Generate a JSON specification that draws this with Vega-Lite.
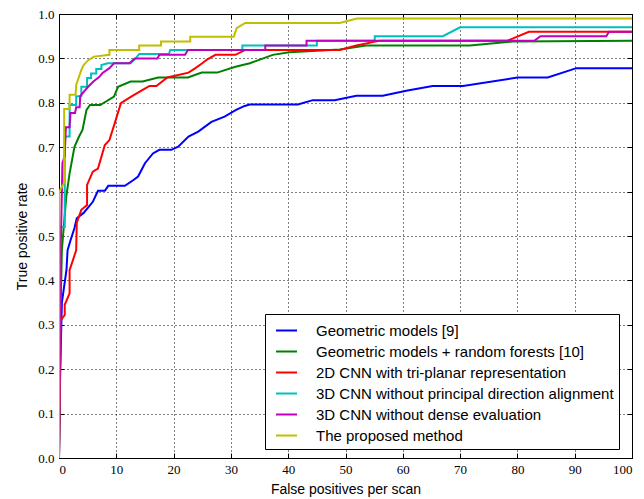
{
  "$schema": "https://vega.github.io/schema/vega-lite/v6.json",
  "autosize": {"type": "none"},
  "width": 573,
  "height": 444,
  "padding": {"left": 59, "top": 14, "right": 12, "bottom": 41},
  "background": "white",
  "config": {
    "view": {"stroke": "black", "strokeWidth": 1},
    "axis": {
      "domainColor": "black",
      "tickColor": "black",
      "tickSize": -5,
      "labelPadding": 10,
      "labelFont": "Liberation Serif",
      "labelFontSize": 13,
      "labelColor": "black",
      "titleFont": "Liberation Sans",
      "titleFontSize": 14,
      "titleFontWeight": "normal",
      "titleColor": "black",
      "gridColor": "black",
      "gridDash": [1, 3],
      "gridOpacity": 1,
      "gridWidth": 1
    }
  },
  "datasets": {
    "curves": [
      {"s": "Geometric models [9]", "x": 0, "y": 0},
      {"s": "Geometric models [9]", "x": 0.2, "y": 0.19},
      {"s": "Geometric models [9]", "x": 0.5, "y": 0.35},
      {"s": "Geometric models [9]", "x": 1.3, "y": 0.423},
      {"s": "Geometric models [9]", "x": 1.5, "y": 0.468},
      {"s": "Geometric models [9]", "x": 2.0, "y": 0.49},
      {"s": "Geometric models [9]", "x": 2.7, "y": 0.518},
      {"s": "Geometric models [9]", "x": 3.1, "y": 0.54},
      {"s": "Geometric models [9]", "x": 4.3, "y": 0.552},
      {"s": "Geometric models [9]", "x": 5.0, "y": 0.563},
      {"s": "Geometric models [9]", "x": 5.9, "y": 0.577},
      {"s": "Geometric models [9]", "x": 6.8, "y": 0.602},
      {"s": "Geometric models [9]", "x": 8.0, "y": 0.602},
      {"s": "Geometric models [9]", "x": 8.6, "y": 0.613},
      {"s": "Geometric models [9]", "x": 11.5, "y": 0.613},
      {"s": "Geometric models [9]", "x": 13.0, "y": 0.626},
      {"s": "Geometric models [9]", "x": 13.8, "y": 0.634},
      {"s": "Geometric models [9]", "x": 15.0, "y": 0.664},
      {"s": "Geometric models [9]", "x": 16.4, "y": 0.686},
      {"s": "Geometric models [9]", "x": 17.5, "y": 0.694},
      {"s": "Geometric models [9]", "x": 19.6, "y": 0.694},
      {"s": "Geometric models [9]", "x": 20.8, "y": 0.701},
      {"s": "Geometric models [9]", "x": 22.6, "y": 0.724},
      {"s": "Geometric models [9]", "x": 24.3, "y": 0.735},
      {"s": "Geometric models [9]", "x": 26.6, "y": 0.757},
      {"s": "Geometric models [9]", "x": 28.9, "y": 0.769},
      {"s": "Geometric models [9]", "x": 30.9, "y": 0.784},
      {"s": "Geometric models [9]", "x": 32.4, "y": 0.793},
      {"s": "Geometric models [9]", "x": 33.3, "y": 0.796},
      {"s": "Geometric models [9]", "x": 41.7, "y": 0.796},
      {"s": "Geometric models [9]", "x": 44.3, "y": 0.806},
      {"s": "Geometric models [9]", "x": 48.1, "y": 0.806},
      {"s": "Geometric models [9]", "x": 51.9, "y": 0.816},
      {"s": "Geometric models [9]", "x": 56.5, "y": 0.816},
      {"s": "Geometric models [9]", "x": 60.6, "y": 0.827},
      {"s": "Geometric models [9]", "x": 65.2, "y": 0.838},
      {"s": "Geometric models [9]", "x": 70.5, "y": 0.838},
      {"s": "Geometric models [9]", "x": 80, "y": 0.857},
      {"s": "Geometric models [9]", "x": 85.3, "y": 0.857},
      {"s": "Geometric models [9]", "x": 90.3, "y": 0.878},
      {"s": "Geometric models [9]", "x": 100, "y": 0.878},

      {"s": "Geometric models + random forests [10]", "x": 0, "y": 0},
      {"s": "Geometric models + random forests [10]", "x": 0.3, "y": 0.35},
      {"s": "Geometric models + random forests [10]", "x": 0.5, "y": 0.468},
      {"s": "Geometric models + random forests [10]", "x": 1.27, "y": 0.589},
      {"s": "Geometric models + random forests [10]", "x": 1.85, "y": 0.641},
      {"s": "Geometric models + random forests [10]", "x": 2.7, "y": 0.701},
      {"s": "Geometric models + random forests [10]", "x": 3.5, "y": 0.724},
      {"s": "Geometric models + random forests [10]", "x": 4.1, "y": 0.739},
      {"s": "Geometric models + random forests [10]", "x": 4.8, "y": 0.784},
      {"s": "Geometric models + random forests [10]", "x": 5.4, "y": 0.795},
      {"s": "Geometric models + random forests [10]", "x": 7.2, "y": 0.795},
      {"s": "Geometric models + random forests [10]", "x": 9.6, "y": 0.814},
      {"s": "Geometric models + random forests [10]", "x": 10.3, "y": 0.836},
      {"s": "Geometric models + random forests [10]", "x": 12.5, "y": 0.848},
      {"s": "Geometric models + random forests [10]", "x": 14.6, "y": 0.848},
      {"s": "Geometric models + random forests [10]", "x": 17.3, "y": 0.857},
      {"s": "Geometric models + random forests [10]", "x": 22.5, "y": 0.857},
      {"s": "Geometric models + random forests [10]", "x": 24.9, "y": 0.868},
      {"s": "Geometric models + random forests [10]", "x": 27.6, "y": 0.868},
      {"s": "Geometric models + random forests [10]", "x": 30.8, "y": 0.881},
      {"s": "Geometric models + random forests [10]", "x": 33.3, "y": 0.889},
      {"s": "Geometric models + random forests [10]", "x": 37.3, "y": 0.908},
      {"s": "Geometric models + random forests [10]", "x": 40.2, "y": 0.914},
      {"s": "Geometric models + random forests [10]", "x": 49, "y": 0.92},
      {"s": "Geometric models + random forests [10]", "x": 53.6, "y": 0.929},
      {"s": "Geometric models + random forests [10]", "x": 71.7, "y": 0.929},
      {"s": "Geometric models + random forests [10]", "x": 79.2, "y": 0.938},
      {"s": "Geometric models + random forests [10]", "x": 100, "y": 0.94},

      {"s": "2D CNN with tri-planar representation", "x": 0, "y": 0},
      {"s": "2D CNN with tri-planar representation", "x": 0.3, "y": 0.31},
      {"s": "2D CNN with tri-planar representation", "x": 1.0, "y": 0.322},
      {"s": "2D CNN with tri-planar representation", "x": 1.0, "y": 0.345},
      {"s": "2D CNN with tri-planar representation", "x": 1.85, "y": 0.371},
      {"s": "2D CNN with tri-planar representation", "x": 1.85, "y": 0.423},
      {"s": "2D CNN with tri-planar representation", "x": 3.0, "y": 0.468},
      {"s": "2D CNN with tri-planar representation", "x": 3.1, "y": 0.53},
      {"s": "2D CNN with tri-planar representation", "x": 3.9, "y": 0.559},
      {"s": "2D CNN with tri-planar representation", "x": 4.9, "y": 0.57},
      {"s": "2D CNN with tri-planar representation", "x": 4.9, "y": 0.615},
      {"s": "2D CNN with tri-planar representation", "x": 5.9, "y": 0.645},
      {"s": "2D CNN with tri-planar representation", "x": 6.8, "y": 0.652},
      {"s": "2D CNN with tri-planar representation", "x": 8.0, "y": 0.705},
      {"s": "2D CNN with tri-planar representation", "x": 8.8, "y": 0.716},
      {"s": "2D CNN with tri-planar representation", "x": 9.8, "y": 0.757},
      {"s": "2D CNN with tri-planar representation", "x": 10.8, "y": 0.799},
      {"s": "2D CNN with tri-planar representation", "x": 12.6, "y": 0.814},
      {"s": "2D CNN with tri-planar representation", "x": 14.6, "y": 0.829},
      {"s": "2D CNN with tri-planar representation", "x": 15.8, "y": 0.838},
      {"s": "2D CNN with tri-planar representation", "x": 17.0, "y": 0.838},
      {"s": "2D CNN with tri-planar representation", "x": 18.9, "y": 0.857},
      {"s": "2D CNN with tri-planar representation", "x": 22.6, "y": 0.868},
      {"s": "2D CNN with tri-planar representation", "x": 23.8, "y": 0.878},
      {"s": "2D CNN with tri-planar representation", "x": 25.0, "y": 0.889},
      {"s": "2D CNN with tri-planar representation", "x": 25.9, "y": 0.898},
      {"s": "2D CNN with tri-planar representation", "x": 27.3, "y": 0.908},
      {"s": "2D CNN with tri-planar representation", "x": 30.8, "y": 0.908},
      {"s": "2D CNN with tri-planar representation", "x": 32.5, "y": 0.919},
      {"s": "2D CNN with tri-planar representation", "x": 49, "y": 0.919},
      {"s": "2D CNN with tri-planar representation", "x": 51.9, "y": 0.929},
      {"s": "2D CNN with tri-planar representation", "x": 56, "y": 0.94},
      {"s": "2D CNN with tri-planar representation", "x": 78.3, "y": 0.94},
      {"s": "2D CNN with tri-planar representation", "x": 82, "y": 0.96},
      {"s": "2D CNN with tri-planar representation", "x": 100, "y": 0.96},

      {"s": "3D CNN without principal direction alignment", "x": 0, "y": 0},
      {"s": "3D CNN without principal direction alignment", "x": 0.05, "y": 0.52},
      {"s": "3D CNN without principal direction alignment", "x": 1.0, "y": 0.52},
      {"s": "3D CNN without principal direction alignment", "x": 1.0, "y": 0.724},
      {"s": "3D CNN without principal direction alignment", "x": 1.85, "y": 0.724},
      {"s": "3D CNN without principal direction alignment", "x": 1.85, "y": 0.795},
      {"s": "3D CNN without principal direction alignment", "x": 3.0, "y": 0.795},
      {"s": "3D CNN without principal direction alignment", "x": 3.0, "y": 0.815},
      {"s": "3D CNN without principal direction alignment", "x": 3.9, "y": 0.815},
      {"s": "3D CNN without principal direction alignment", "x": 3.9, "y": 0.836},
      {"s": "3D CNN without principal direction alignment", "x": 4.9, "y": 0.836},
      {"s": "3D CNN without principal direction alignment", "x": 4.9, "y": 0.856},
      {"s": "3D CNN without principal direction alignment", "x": 5.6, "y": 0.856},
      {"s": "3D CNN without principal direction alignment", "x": 5.6, "y": 0.866},
      {"s": "3D CNN without principal direction alignment", "x": 6.5, "y": 0.866},
      {"s": "3D CNN without principal direction alignment", "x": 6.5, "y": 0.876},
      {"s": "3D CNN without principal direction alignment", "x": 7.4, "y": 0.876},
      {"s": "3D CNN without principal direction alignment", "x": 7.4, "y": 0.885},
      {"s": "3D CNN without principal direction alignment", "x": 8.5, "y": 0.889},
      {"s": "3D CNN without principal direction alignment", "x": 12.5, "y": 0.889},
      {"s": "3D CNN without principal direction alignment", "x": 13.4, "y": 0.9},
      {"s": "3D CNN without principal direction alignment", "x": 14.0, "y": 0.91},
      {"s": "3D CNN without principal direction alignment", "x": 19.2, "y": 0.91},
      {"s": "3D CNN without principal direction alignment", "x": 19.4, "y": 0.919},
      {"s": "3D CNN without principal direction alignment", "x": 32, "y": 0.919},
      {"s": "3D CNN without principal direction alignment", "x": 32, "y": 0.929},
      {"s": "3D CNN without principal direction alignment", "x": 45, "y": 0.929},
      {"s": "3D CNN without principal direction alignment", "x": 45, "y": 0.94},
      {"s": "3D CNN without principal direction alignment", "x": 55.1, "y": 0.94},
      {"s": "3D CNN without principal direction alignment", "x": 55.1, "y": 0.95},
      {"s": "3D CNN without principal direction alignment", "x": 67, "y": 0.95},
      {"s": "3D CNN without principal direction alignment", "x": 70, "y": 0.97},
      {"s": "3D CNN without principal direction alignment", "x": 100, "y": 0.97},

      {"s": "3D CNN without dense evaluation", "x": 0, "y": 0},
      {"s": "3D CNN without dense evaluation", "x": 0.3, "y": 0.47},
      {"s": "3D CNN without dense evaluation", "x": 0.6, "y": 0.664},
      {"s": "3D CNN without dense evaluation", "x": 1.0, "y": 0.68},
      {"s": "3D CNN without dense evaluation", "x": 1.2, "y": 0.745},
      {"s": "3D CNN without dense evaluation", "x": 1.85, "y": 0.745},
      {"s": "3D CNN without dense evaluation", "x": 2.0, "y": 0.777},
      {"s": "3D CNN without dense evaluation", "x": 2.8, "y": 0.777},
      {"s": "3D CNN without dense evaluation", "x": 3.0, "y": 0.79},
      {"s": "3D CNN without dense evaluation", "x": 3.6, "y": 0.79},
      {"s": "3D CNN without dense evaluation", "x": 3.7, "y": 0.815},
      {"s": "3D CNN without dense evaluation", "x": 5.0, "y": 0.835},
      {"s": "3D CNN without dense evaluation", "x": 6.0, "y": 0.848},
      {"s": "3D CNN without dense evaluation", "x": 7.0, "y": 0.858},
      {"s": "3D CNN without dense evaluation", "x": 7.6, "y": 0.867},
      {"s": "3D CNN without dense evaluation", "x": 8.8, "y": 0.878},
      {"s": "3D CNN without dense evaluation", "x": 9.6, "y": 0.889},
      {"s": "3D CNN without dense evaluation", "x": 12.3, "y": 0.889},
      {"s": "3D CNN without dense evaluation", "x": 13.2, "y": 0.9},
      {"s": "3D CNN without dense evaluation", "x": 17.2, "y": 0.9},
      {"s": "3D CNN without dense evaluation", "x": 17.5, "y": 0.908},
      {"s": "3D CNN without dense evaluation", "x": 22, "y": 0.908},
      {"s": "3D CNN without dense evaluation", "x": 22.5, "y": 0.919},
      {"s": "3D CNN without dense evaluation", "x": 36, "y": 0.919},
      {"s": "3D CNN without dense evaluation", "x": 36, "y": 0.929},
      {"s": "3D CNN without dense evaluation", "x": 43.2, "y": 0.929},
      {"s": "3D CNN without dense evaluation", "x": 43.2, "y": 0.94},
      {"s": "3D CNN without dense evaluation", "x": 83, "y": 0.94},
      {"s": "3D CNN without dense evaluation", "x": 84, "y": 0.95},
      {"s": "3D CNN without dense evaluation", "x": 95.5, "y": 0.95},
      {"s": "3D CNN without dense evaluation", "x": 96, "y": 0.96},
      {"s": "3D CNN without dense evaluation", "x": 100, "y": 0.96},

      {"s": "The proposed method", "x": 0, "y": 0},
      {"s": "The proposed method", "x": 0.05, "y": 0.6},
      {"s": "The proposed method", "x": 0.9, "y": 0.62},
      {"s": "The proposed method", "x": 0.9, "y": 0.786},
      {"s": "The proposed method", "x": 1.85, "y": 0.786},
      {"s": "The proposed method", "x": 1.85, "y": 0.818},
      {"s": "The proposed method", "x": 2.9, "y": 0.818},
      {"s": "The proposed method", "x": 3.0, "y": 0.84},
      {"s": "The proposed method", "x": 3.9, "y": 0.874},
      {"s": "The proposed method", "x": 4.3, "y": 0.885},
      {"s": "The proposed method", "x": 5.1, "y": 0.896},
      {"s": "The proposed method", "x": 6.1, "y": 0.904},
      {"s": "The proposed method", "x": 8.8, "y": 0.908},
      {"s": "The proposed method", "x": 8.8, "y": 0.919},
      {"s": "The proposed method", "x": 14, "y": 0.919},
      {"s": "The proposed method", "x": 14, "y": 0.929},
      {"s": "The proposed method", "x": 17.8, "y": 0.929},
      {"s": "The proposed method", "x": 17.8, "y": 0.938},
      {"s": "The proposed method", "x": 22.9, "y": 0.938},
      {"s": "The proposed method", "x": 22.9, "y": 0.949},
      {"s": "The proposed method", "x": 30.5, "y": 0.949},
      {"s": "The proposed method", "x": 31, "y": 0.968},
      {"s": "The proposed method", "x": 32.5, "y": 0.98},
      {"s": "The proposed method", "x": 49, "y": 0.98},
      {"s": "The proposed method", "x": 52, "y": 0.99},
      {"s": "The proposed method", "x": 100, "y": 0.99}
    ]
  },
  "data": {"name": "curves"},
  "layer": [
    {
      "mark": {"type": "line", "strokeWidth": 2, "clip": true},
      "encoding": {
        "x": {
          "field": "x", "type": "quantitative",
          "scale": {"domain": [0, 100], "nice": false},
          "axis": {"values": [0,10,20,30,40,50,60,70,80,90,100], "title": "False positives per scan", "titlePadding": 6, "labelFont": "Liberation Serif", "labelFontSize": 13}
        },
        "y": {
          "field": "y", "type": "quantitative",
          "scale": {"domain": [0, 1], "nice": false},
          "axis": {"values": [0,0.1,0.2,0.3,0.4,0.5,0.6,0.7,0.8,0.9,1.0], "format": ".1f", "title": "True positive rate", "titlePadding": 8, "labelFont": "Liberation Serif", "labelFontSize": 13}
        },
        "color": {
          "field": "s", "type": "nominal", "sort": null,
          "scale": {
            "domain": ["Geometric models [9]", "Geometric models + random forests [10]", "2D CNN with tri-planar representation", "3D CNN without principal direction alignment", "3D CNN without dense evaluation", "The proposed method"],
            "range": ["#0000ff", "#008000", "#ff0000", "#00bfbf", "#bf00bf", "#bfbf00"]
          },
          "legend": {
            "title": null,
            "orient": "none",
            "legendX": 206,
            "legendY": 300,
            "symbolType": "stroke",
            "symbolSize": 441,
            "symbolStrokeWidth": 2,
            "symbolOffset": 5,
            "labelFont": "Liberation Sans",
            "labelFontSize": 15,
            "labelColor": "black",
            "labelLimit": 500,
            "labelOffset": 18,
            "rowPadding": 1,
            "padding": 5,
            "strokeColor": "black",
            "fillColor": "white",
            "cornerRadius": 0
          }
        }
      }
    },
    {
      "mark": {"type": "point", "opacity": 0},
      "encoding": {
        "x": {
          "field": "x", "type": "quantitative",
          "axis": {"orient": "top", "values": [0,10,20,30,40,50,60,70,80,90,100], "labels": false, "title": null, "grid": false}
        },
        "y": {
          "field": "y", "type": "quantitative",
          "axis": {"orient": "right", "values": [0,0.1,0.2,0.3,0.4,0.5,0.6,0.7,0.8,0.9,1.0], "labels": false, "title": null, "grid": false}
        }
      }
    }
  ],
  "resolve": {"axis": {"x": "independent", "y": "independent"}}
}
